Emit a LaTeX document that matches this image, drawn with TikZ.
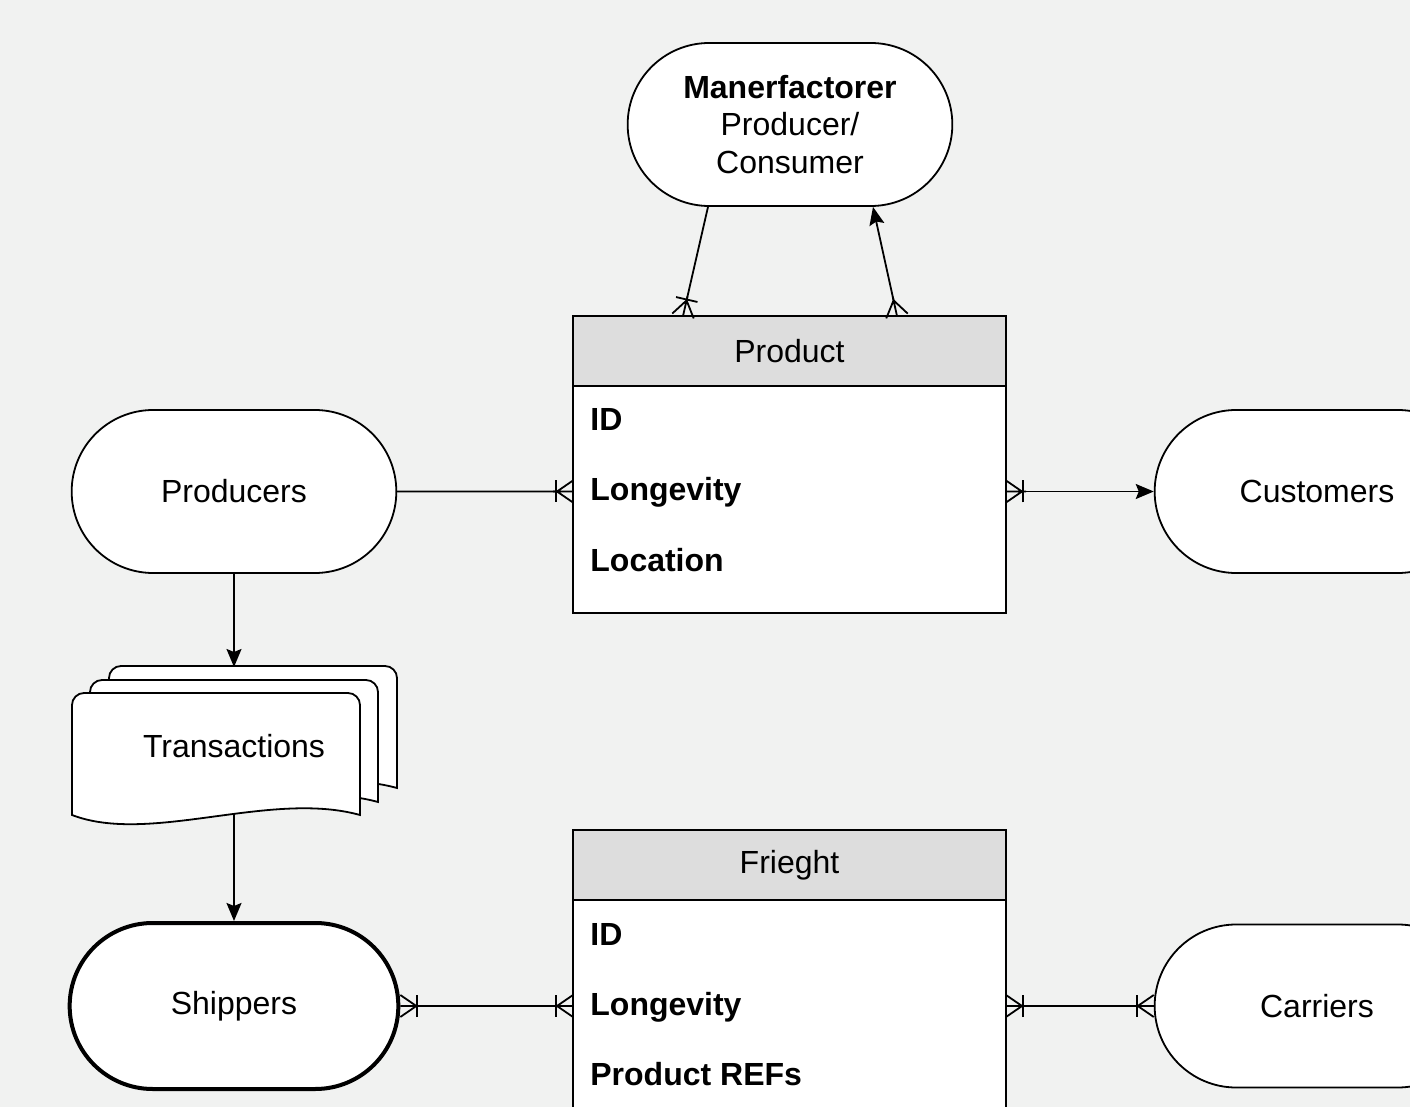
\documentclass[tikz,border=0pt]{standalone}
\usepackage{fontspec}
\setmainfont{Liberation Sans}
\usepackage{tikz}
\usetikzlibrary{positioning,arrows.meta,calc,shapes.misc}
\usepackage{xcolor}
\definecolor{canvas}{HTML}{F1F2F1}
\definecolor{headgray}{HTML}{DDDDDD}

% crow's foot tip (many)
\pgfdeclarearrow{
  name = Crow,
  parameters = {\the\pgfarrowlength,\the\pgfarrowwidth},
  setup code = {
    \pgfarrowssettipend{0pt}
    \pgfarrowssetbackend{-\pgfarrowlength-2pt}
    \pgfarrowssetlineend{-\pgfarrowlength-2pt}
    \pgfarrowsupperhullpoint{0pt}{.5\pgfarrowwidth}
    \pgfarrowsupperhullpoint{-\pgfarrowlength-2pt}{0pt}
    \pgfarrowssavethe\pgfarrowlength
    \pgfarrowssavethe\pgfarrowwidth
  },
  drawing code = {
    \pgfsetdash{}{0pt}
    \pgfpathmoveto{\pgfqpoint{0pt}{.5\pgfarrowwidth}}
    \pgfpathlineto{\pgfqpoint{-\pgfarrowlength}{0pt}}
    \pgfpathlineto{\pgfqpoint{0pt}{-.5\pgfarrowwidth}}
    \pgfpathmoveto{\pgfpoint{-\pgfarrowlength-2pt}{0pt}}
    \pgfpathlineto{\pgfqpoint{0pt}{0pt}}
    \pgfusepathqstroke
  },
  defaults = {length=8pt, width=11pt}
}

\begin{document}
\begin{tikzpicture}[
    x=0.5pt, y=-0.5pt,
    term/.style={rounded rectangle, draw, line width=0.9pt, fill=white, minimum width=169pt, minimum height=81.5pt, align=center, font=\fontsize{16}{18.75}\selectfont},
    entityhead/.style={rectangle, draw, line width=0.9pt, fill=headgray, outer sep=0pt, minimum width=216.5pt, minimum height=35pt, font=\fontsize{16}{19}\selectfont},
    entitybody/.style={rectangle, draw, line width=0.9pt, fill=white, outer sep=0pt, minimum width=216.5pt, anchor=north},
    field/.style={anchor=base west, inner sep=0pt, font=\fontsize{16}{19}\selectfont\bfseries},
    docpage/.style={draw, line width=0.9pt, fill=white},
    link/.style={line width=0.9pt},
    arrow/.style={link, -{Stealth[length=9pt, width=7.5pt, inset=1.5pt]}}
]
\useasboundingbox (0,0) rectangle (1410,1107);
\clip (0,0) rectangle (1410,1107);
\fill[canvas] (0,0) rectangle (1410,1107);

% top terminal
\node[term] (manu) at (790,124.5) {{\bfseries Manerfactorer}\\Producer/\\Consumer};

% Product entity
\node[entityhead] (prodhead) at (789.5,351) {Product};
\node[entitybody, minimum height=113.5pt] (prodbody) at (prodhead.south) {};
\node[field] (prodid) at (590,430) {ID};
\node[field] (prodlong) at (590,501) {Longevity};
\node[field] (prodloc) at (590,571) {Location};

% side terminals
\node[term] (prods) at (234,491.5) {Producers};
\node[term] (custs) at (1317,491.5) {Customers};

% Transactions (stack of documents)
\foreach \dx/\dy in {37/-27,18/-13,0/0}
  \filldraw[docpage, shift={(\dx,\dy)}] (72,815) [rounded corners=6pt] -- (72,693) -- (360,693) [sharp corners] -- (360,815)
    .. controls (270,790) and (150,845) .. (72,815) -- cycle;
\node[font=\fontsize{16}{19}\selectfont] (trans) at (234,746) {Transactions};
\coordinate (transtop) at (234,667);
\coordinate (transbot) at (234,814);

% Frieght entity
\node[entityhead] (frhead) at (789.5,865) {Frieght};
\node[entitybody, minimum height=130pt] (frbody) at (frhead.south) {};
\node[field] (frid) at (590,945) {ID};
\node[field] (frlong) at (590,1015) {Longevity};
\node[field] (frref) at (590,1085) {Product REFs};

\node[term, line width=2pt, minimum width=171pt, minimum height=83pt] (ships) at (234,1006) {Shippers};
\node[term] (carr) at (1317,1006) {Carriers};

% connectors
\draw[link, -{Bar[width=11pt] Crow[]}] ($(manu.south)+(-82,0)$) -- ($(prodhead.north west)+(110,0)$);
\draw[link, {Crow[]}-{Stealth[length=9pt, width=7.5pt, inset=1.5pt]}] ($(prodhead.north west)+(324,0)$) -- ($(manu.south)+(83,0)$);
\draw[link, -{Bar[width=11pt] Crow[]}] (prods) -- (prods -| prodbody.west);
\draw[link, {Crow[] Bar[width=11pt]}-{Stealth[length=9pt, width=7.5pt, inset=1.5pt]}] (prodbody.east |- custs) -- (custs);
\draw[arrow] (prods) -- (transtop);
\draw[arrow] (transbot) -- (ships);
\draw[link, {Crow[] Bar[width=11pt]}-{Bar[width=11pt] Crow[]}] (ships) -- (ships -| frbody.west);
\draw[link, {Crow[] Bar[width=11pt]}-{Bar[width=11pt] Crow[]}] (frbody.east |- carr) -- (carr);
\end{tikzpicture}
\end{document}
